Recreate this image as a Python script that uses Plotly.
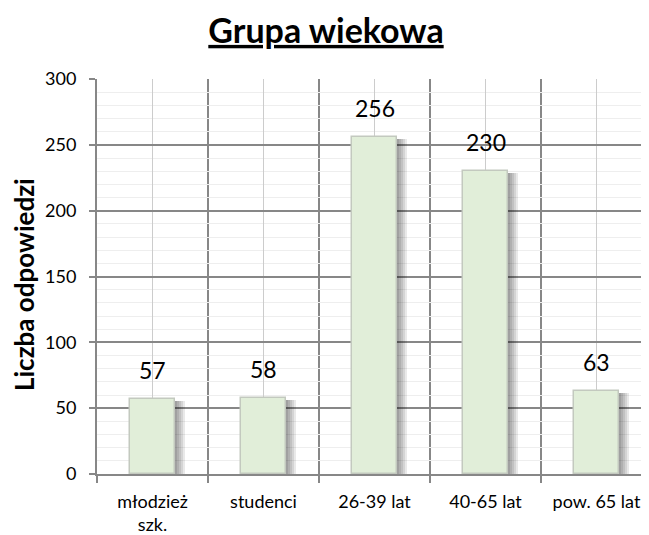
import plotly.graph_objects as go

categories = ["młodzież<br>szk.", "studenci", "26-39 lat", "40-65 lat", "pow. 65 lat"]
values = [57, 58, 256, 230, 63]
y_ticks = [0, 50, 100, 150, 200, 250, 300]
title_text = "Grupa wiekowa"
y_title = "Liczba odpowiedzi"

FONT = "Lato"
idx = list(range(len(categories)))
px = 1 / 111.0  # one pixel in category units
bar_w = 0.4

fig = go.Figure()

# soft shadow layers
for k in range(1, 6):
    fig.add_trace(go.Bar(
        x=idx, y=[v - 1.5 for v in values], width=bar_w,
        offset=-bar_w / 2 + 2 * k * px,
        marker=dict(color="rgba(0,0,0,0.085)", line=dict(width=0)),
        hoverinfo="skip", showlegend=False))

fig.add_trace(go.Bar(
    x=idx, y=values, width=bar_w, offset=-bar_w / 2,
    marker=dict(color="#e1eed9", line=dict(color="#c3c9bf", width=1.5)),
    showlegend=False))

for i, v in zip(idx, values):
    fig.add_annotation(x=i, y=v, text=str(v), showarrow=False,
                       yanchor="bottom", yshift=13,
                       font=dict(family=FONT, size=23, color="#000000"))

# y-axis title placed as a rotated annotation
fig.add_annotation(text="<b>" + y_title + "</b>", textangle=-90, showarrow=False,
                   xref="paper", yref="paper", x=0, y=(474 - 285) / 395,
                   xanchor="center", yanchor="middle", xshift=-73,
                   font=dict(family=FONT, size=26, color="#000000"))

fig.update_layout(
    width=649, height=535,
    margin=dict(l=89, r=8, t=71, b=69),
    paper_bgcolor="white", plot_bgcolor="white",
    barmode="overlay", bargap=0,
    title=dict(text="<b><u>" + title_text + "</u></b>", x=318 / 649, xref="container",
               xanchor="center", y=1 - 23 / 535, yref="container", yanchor="middle",
               font=dict(family=FONT, size=34, color="#000000")),
    font=dict(family=FONT, color="#000000"),
)

fig.update_xaxes(
    automargin=False,
    range=[-0.5, -0.5 + 552 / 111],
    tickmode="array", tickvals=idx, ticktext=categories,
    ticks="", ticklabelstandoff=10,
    tickfont=dict(family=FONT, size=18, color="#000000"),
    showgrid=True, gridcolor="#cccccc", gridwidth=1,
    showline=True, linecolor="#878787", linewidth=2,
    zeroline=False,
    minor=dict(tickmode="array", tickvals=[i - 0.5 for i in idx] + [len(idx) - 0.5],
               showgrid=True, gridcolor="#878787", gridwidth=1.5,
               ticks="outside", ticklen=7, tickcolor="#878787", tickwidth=1.5),
)

fig.update_yaxes(
    automargin=False,
    range=[0, 300],
    tickmode="array", tickvals=y_ticks,
    ticks="outside", ticklen=6, tickcolor="#878787", tickwidth=1.5,
    ticklabelstandoff=9,
    tickfont=dict(family=FONT, size=18, color="#000000"),
    showgrid=True, gridcolor="#878787", gridwidth=1.5,
    showline=True, linecolor="#878787", linewidth=2,
    zeroline=False,
    minor=dict(dtick=10, showgrid=True, gridcolor="#eeeeee", gridwidth=1, ticks=""),
)

fig.write_html("out.html")
